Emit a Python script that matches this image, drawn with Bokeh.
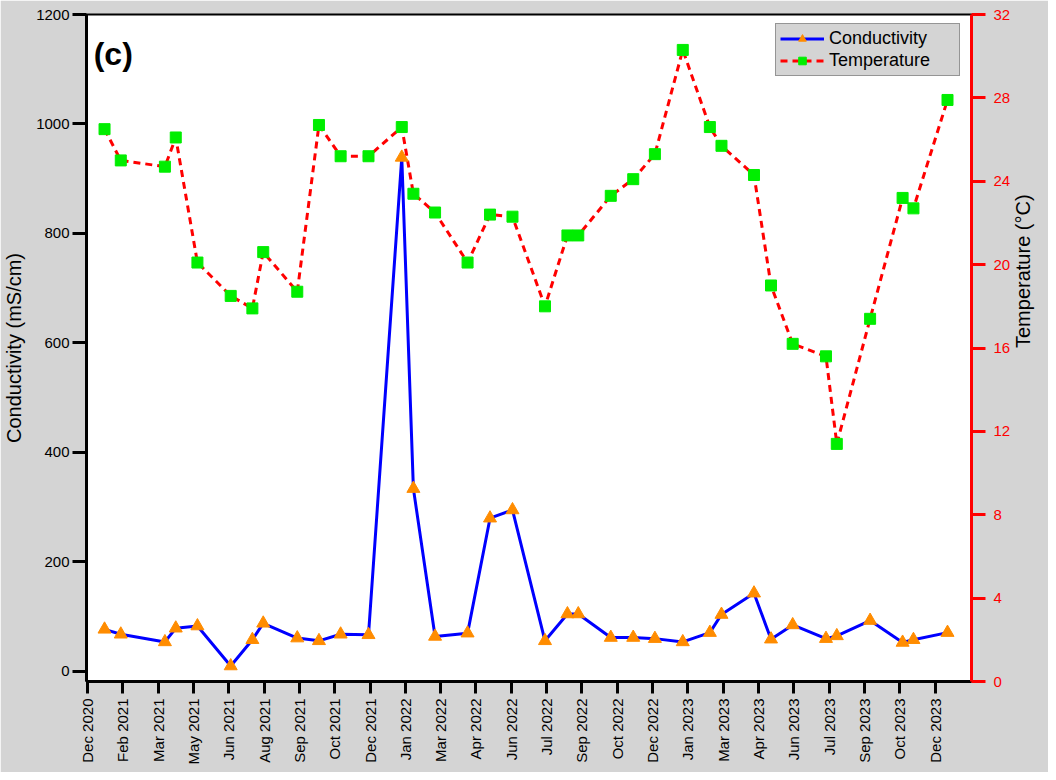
import pandas as pd
from math import pi
from bokeh.plotting import figure
from bokeh.models import Range1d, LinearAxis, FixedTicker, Legend, LegendItem, Label
from bokeh.embed import file_html
from bokeh.resources import INLINE

# ---------------- data ----------------
sample_dates = [
    "2020-12-23", "2021-01-13", "2021-03-11", "2021-03-25", "2021-04-22", "2021-06-04",
    "2021-07-02", "2021-07-16", "2021-08-29", "2021-09-26", "2021-10-24", "2021-11-29",
    "2022-01-11", "2022-01-26", "2022-02-23", "2022-04-06", "2022-05-05", "2022-06-03",
    "2022-07-15", "2022-08-13", "2022-08-27", "2022-10-08", "2022-11-06", "2022-12-04",
    "2023-01-09", "2023-02-13", "2023-02-28", "2023-04-11", "2023-05-03", "2023-05-31",
    "2023-07-13", "2023-07-27", "2023-09-08", "2023-10-20", "2023-11-03", "2023-12-17",
]
conductivity = [
    77, 68, 54, 79, 83, 10, 58, 88, 61, 56, 68, 67,
    939, 334, 64, 70, 280, 295, 56, 105, 105, 62, 62, 60,
    54, 71, 104, 143, 59, 85, 60, 65, 93, 53, 58, 71,
]
temperature = [
    26.5, 25.0, 24.7, 26.1, 20.1, 18.5, 17.9, 20.6, 18.7, 26.7, 25.2, 25.2,
    26.6, 23.4, 22.5, 20.1, 22.4, 22.3, 18.0, 21.4, 21.4, 23.3, 24.1, 25.3,
    30.3, 26.6, 25.7, 24.3, 19.0, 16.2, 15.6, 11.4, 17.4, 23.2, 22.7, 27.9,
]
tick_labels = [
    "Dec 2020", "Feb 2021", "Mar 2021", "May 2021", "Jun 2021", "Aug 2021", "Sep 2021",
    "Oct 2021", "Dec 2021", "Jan 2022", "Mar 2022", "Apr 2022", "Jun 2022", "Jul 2022",
    "Sep 2022", "Oct 2022", "Dec 2022", "Jan 2023", "Mar 2023", "Apr 2023", "Jun 2023",
    "Jul 2023", "Sep 2023", "Oct 2023", "Dec 2023",
]

origin = pd.Timestamp("2020-12-01")
days = [(pd.Timestamp(d) - origin).days for d in sample_dates]
tick_step = 1095 / 24.0
tick_pos = [i * tick_step for i in range(len(tick_labels))]

FONT = "Liberation Sans"
GRAY = "#d4d4d4"

p = figure(width=1048, height=772, output_backend="svg", toolbar_location=None,
           x_range=Range1d(-1.3, 1142), y_range=Range1d(-18.3, 1200),
           min_border_left=85, min_border_right=68, min_border_top=14, min_border_bottom=91)
p.border_fill_color = GRAY
p.background_fill_color = "white"
p.outline_line_color = "black"
p.outline_line_width = 2
p.xgrid.visible = False
p.ygrid.visible = False
p.extra_y_ranges = {"temp": Range1d(0, 32)}

# left axis
ya = p.yaxis[0]
ya.ticker = FixedTicker(ticks=[0, 200, 400, 600, 800, 1000, 1200])
ya.axis_label = "Conductivity (mS/cm)"
ya.axis_label_text_font = FONT
ya.axis_label_text_font_size = "20px"
ya.axis_label_text_font_style = "normal"
ya.axis_label_text_color = "black"
ya.axis_label_standoff = 8
ya.major_label_text_font = FONT
ya.major_label_text_font_size = "15px"
ya.major_label_text_color = "black"
ya.major_label_standoff = 3
ya.axis_line_width = 3
ya.major_tick_line_width = 3
ya.major_tick_out = 14
ya.major_tick_in = 0
ya.minor_tick_line_color = None

# bottom axis
xa = p.xaxis[0]
xa.ticker = FixedTicker(ticks=tick_pos)
xa.major_label_overrides = {t: lab for t, lab in zip(tick_pos, tick_labels)}
xa.major_label_orientation = pi / 2
xa.major_label_text_font = FONT
xa.major_label_text_font_size = "15px"
xa.major_label_text_color = "black"
xa.major_label_standoff = 5
xa.axis_line_width = 3
xa.major_tick_line_width = 3
xa.major_tick_out = 12
xa.major_tick_in = 0
xa.minor_tick_line_color = None

# right axis (temperature)
ra = LinearAxis(y_range_name="temp", ticker=FixedTicker(ticks=list(range(0, 33, 4))))
ra.axis_line_color = "red"
ra.axis_line_width = 3
ra.major_tick_line_color = "red"
ra.major_tick_line_width = 3
ra.major_tick_out = 14
ra.major_tick_in = 0
ra.minor_tick_line_color = None
ra.major_label_text_color = "red"
ra.major_label_text_font = FONT
ra.major_label_text_font_size = "15px"
ra.major_label_standoff = 8
ra.axis_label = "Temperature (°C)"
ra.axis_label_text_font = FONT
ra.axis_label_text_font_size = "20px"
ra.axis_label_text_font_style = "normal"
ra.axis_label_text_color = "black"
ra.axis_label_standoff = 10
try:
    ra.axis_label_orientation = pi / 2
except Exception:
    pass
p.add_layout(ra, "right")

# series
t_line = p.line(days, temperature, y_range_name="temp", line_color="red",
                line_width=3, line_dash="7 5")
t_pts = p.scatter(days, temperature, y_range_name="temp", marker="square", size=11,
                  fill_color="#00ee00", line_color="#00ee00")
c_line = p.line(days, conductivity, line_color="#0000ff", line_width=3)
c_pts = p.scatter(days, conductivity, marker="triangle", size=13,
                  fill_color="#ff8c00", line_color="#ff8c00")

legend = Legend(items=[LegendItem(label="Conductivity", renderers=[c_line, c_pts]),
                       LegendItem(label="Temperature", renderers=[t_line, t_pts])],
                location=(689, 605))
legend.margin = 0
legend.padding = 4
legend.spacing = 1
legend.glyph_width = 44
legend.glyph_height = 19
legend.label_height = 19
legend.label_width = 126
legend.label_standoff = 5
legend.label_text_font = FONT
legend.label_text_font_size = "18px"
legend.label_text_color = "black"
legend.background_fill_color = GRAY
legend.background_fill_alpha = 1
legend.border_line_color = "#555555"
legend.border_line_width = 1
p.add_layout(legend)

p.add_layout(Label(x=8, y=1160, text="(c)", text_font=FONT, text_font_size="32px",
                   text_font_style="bold", text_baseline="top", text_align="left",
                   text_color="black"))

open("out.html", "w").write(file_html(p, INLINE))
